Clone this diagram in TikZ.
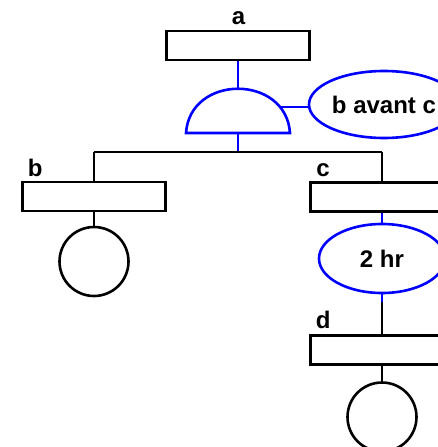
\documentclass[tikz,border=0pt]{standalone}
\usepackage{fontspec}
\setmainfont{Liberation Sans}
\usetikzlibrary{shapes.geometric}
\begin{document}
\begin{tikzpicture}[x=1pt,y=-1pt,line width=2.6pt,
 ev/.style={draw,rectangle,minimum width=143pt,minimum height=29pt,inner sep=0},
 bas/.style={draw,circle,minimum size=69pt,inner sep=0},
 cond/.style={draw=blue,ellipse,inner sep=0,font=\fontsize{24}{28}\selectfont\bfseries},
 lab/.style={anchor=base west,inner sep=0,font=\fontsize{24}{28}\selectfont\bfseries}]
\clip (0,0) rectangle (438,447);
\path (238,45.5) node[ev] (a) {} (238.5,24) node[lab,anchor=base] (la) {a}
 (94,196.5) node[ev] (b) {} (26.5,176) node[lab] (lb) {b}
 (382,197) node[ev] (c) {} (315,176) node[lab] (lc) {c}
 (382,350) node[ev] (d) {} (314.5,328) node[lab] (ld) {d}
 (94,261.5) node[bas] (bb) {} (382,417) node[bas] (db) {}
 (384,104.5) node[cond,minimum width=150pt,minimum height=67pt] (bc) {b avant c}
 (382,258.5) node[cond,minimum width=126pt,minimum height=69pt] (hr) {2 hr};
% gate
\draw[blue] (186,133) .. controls (190,74) and (286,74) .. (290,133) -- cycle;
\path (238,89) coordinate(gt) (238,133) coordinate(gb) (281,107) coordinate(gs)
 (238,152) coordinate(j) (94,152) coordinate(jb) (382,152) coordinate(jc) (hr.south) ++(0,8) coordinate(hs);
\draw[blue] (a.south)--(gt) (gb)--(j) (gs)--(bc.west |- gs) (c.south)--(hr.north) (hr.south)--(hs);
\draw (jb)--(jc) (jb)--(b.north) (jc)--(c.north) (b.south)--(bb.north) (hs)--(d.north) (d.south)--(db.north);
\end{tikzpicture}
\end{document}
